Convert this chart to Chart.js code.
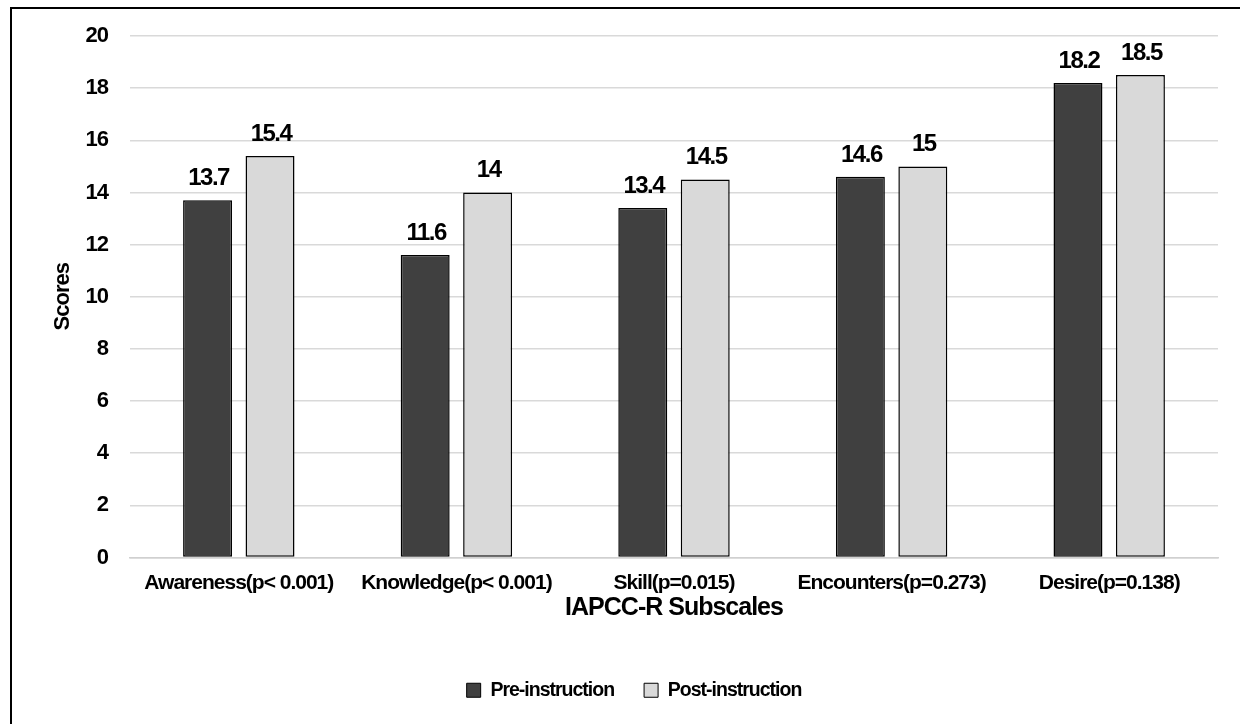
<!DOCTYPE html>
<html>
<head>
<meta charset="utf-8">
<script src="https://cdn.jsdelivr.net/npm/chart.js@4/dist/chart.umd.min.js"></script>
<style>
  html, body { margin: 0; padding: 0; background: #fff; overflow: hidden; }
  body { width: 1240px; height: 724px; position: relative; }
  #frame { position: absolute; left: 10px; top: 7px; width: 1300px; height: 800px; border: 2px solid #000; box-sizing: border-box; }
  #wrap { position: absolute; left: 10px; top: 7px; width: 1246px; height: 717px; }
</style>
</head>
<body>
<div id="frame"></div>
<div id="wrap"><canvas id="chart"></canvas></div>
<script>
"use strict";

// categories and scores
var categories = ['Awareness(p< 0.001)', 'Knowledge(p< 0.001)', 'Skill(p=0.015)', 'Encounters(p=0.273)', 'Desire(p=0.138)'];
var preScores = [13.7, 11.6, 13.4, 14.6, 18.2];
var postScores = [15.4, 14, 14.5, 15, 18.5];
var yTicks = [0, 2, 4, 6, 8, 10, 12, 14, 16, 18, 20];

var font = "'Liberation Sans', Arial, sans-serif";

// the original uses a narrow face, so squeeze the letters a bit
var tightText = {
	id: 'tightText',
	beforeLayout: function(chart) { chart.ctx.letterSpacing = '-1px'; },
	beforeDraw: function(chart) { chart.ctx.letterSpacing = '-1px'; }
};

// writes the value on top of each bar
var valueLabels = {
	id: 'valueLabels',
	afterDatasetsDraw: function(chart) {
		var ctx = chart.ctx;
		ctx.save();
		ctx.letterSpacing = '-1.5px';
		ctx.font = 'bold 24px ' + font;
		ctx.fillStyle = '#000';
		ctx.textAlign = 'center';
		ctx.textBaseline = 'alphabetic';
		chart.data.datasets.forEach(function(ds, i) {
			chart.getDatasetMeta(i).data.forEach(function(bar, j) {
				ctx.fillText(String(ds.data[j]), bar.x + 1, bar.y - 15);
			});
		});
		ctx.restore();
	}
};

new Chart(document.getElementById('chart'), {
	type: 'bar',
	data: {
		labels: categories,
		datasets: [{
			label: 'Pre-instruction',
			data: preScores,
			backgroundColor: '#404040',
			borderColor: '#000',
			borderWidth: 1.5,
			borderSkipped: false
		}, {
			label: 'Post-instruction',
			data: postScores,
			backgroundColor: '#d9d9d9',
			borderColor: '#000',
			borderWidth: 1.5,
			borderSkipped: false
		}]
	},
	options: {
		responsive: true,
		maintainAspectRatio: false,
		animation: false,
		categoryPercentage: 0.574,
		barPercentage: 0.784,
		layout: { padding: { left: 40, right: 38, top: 29, bottom: 14 } },
		plugins: {
			tooltip: { enabled: false },
			legend: {
				position: 'bottom',
				labels: {
					color: '#000',
					font: { family: font, size: 19.5, weight: 'bold' },
					boxWidth: 14,
					boxHeight: 14,
					padding: 30,
					generateLabels: function(chart) {
						return chart.data.datasets.map(function(ds, i) {
							return {
								text: ds.label,
								fillStyle: ds.backgroundColor,
								strokeStyle: '#000',
								lineWidth: 1,
								datasetIndex: i
							};
						});
					}
				}
			}
		},
		scales: {
			x: {
				grid: { display: false },
				border: { color: '#d0d0d0', width: 1.5 },
				ticks: {
					color: '#000',
					font: { family: font, size: 21, weight: 'bold' },
					padding: 5,
					maxRotation: 0,
					autoSkip: false
				},
				title: {
					display: true,
					text: 'IAPCC-R Subscales',
					color: '#000',
					font: { family: font, size: 25, weight: 'bold' },
					padding: { top: 0, bottom: 27 }
				},
				afterFit: function(scale) { scale.height = 93; }
			},
			y: {
				min: 0,
				max: 20,
				afterBuildTicks: function(scale) {
					scale.ticks = yTicks.map(function(v) { return { value: v }; });
				},
				grid: { color: '#d9d9d9', lineWidth: 1.5, drawTicks: true, tickLength: 20, tickColor: 'rgba(0,0,0,0)' },
				border: { display: false },
				ticks: {
					color: '#000',
					font: { family: font, size: 22, weight: 'bold' },
					padding: 2
				},
				title: {
					display: true,
					text: 'Scores',
					color: '#000',
					font: { family: font, size: 22, weight: 'bold' },
					padding: { top: 0, bottom: 0 }
				},
				afterFit: function(scale) { scale.width = 80; }
			}
		}
	},
	plugins: [tightText, valueLabels]
});
</script>
</body>
</html>
